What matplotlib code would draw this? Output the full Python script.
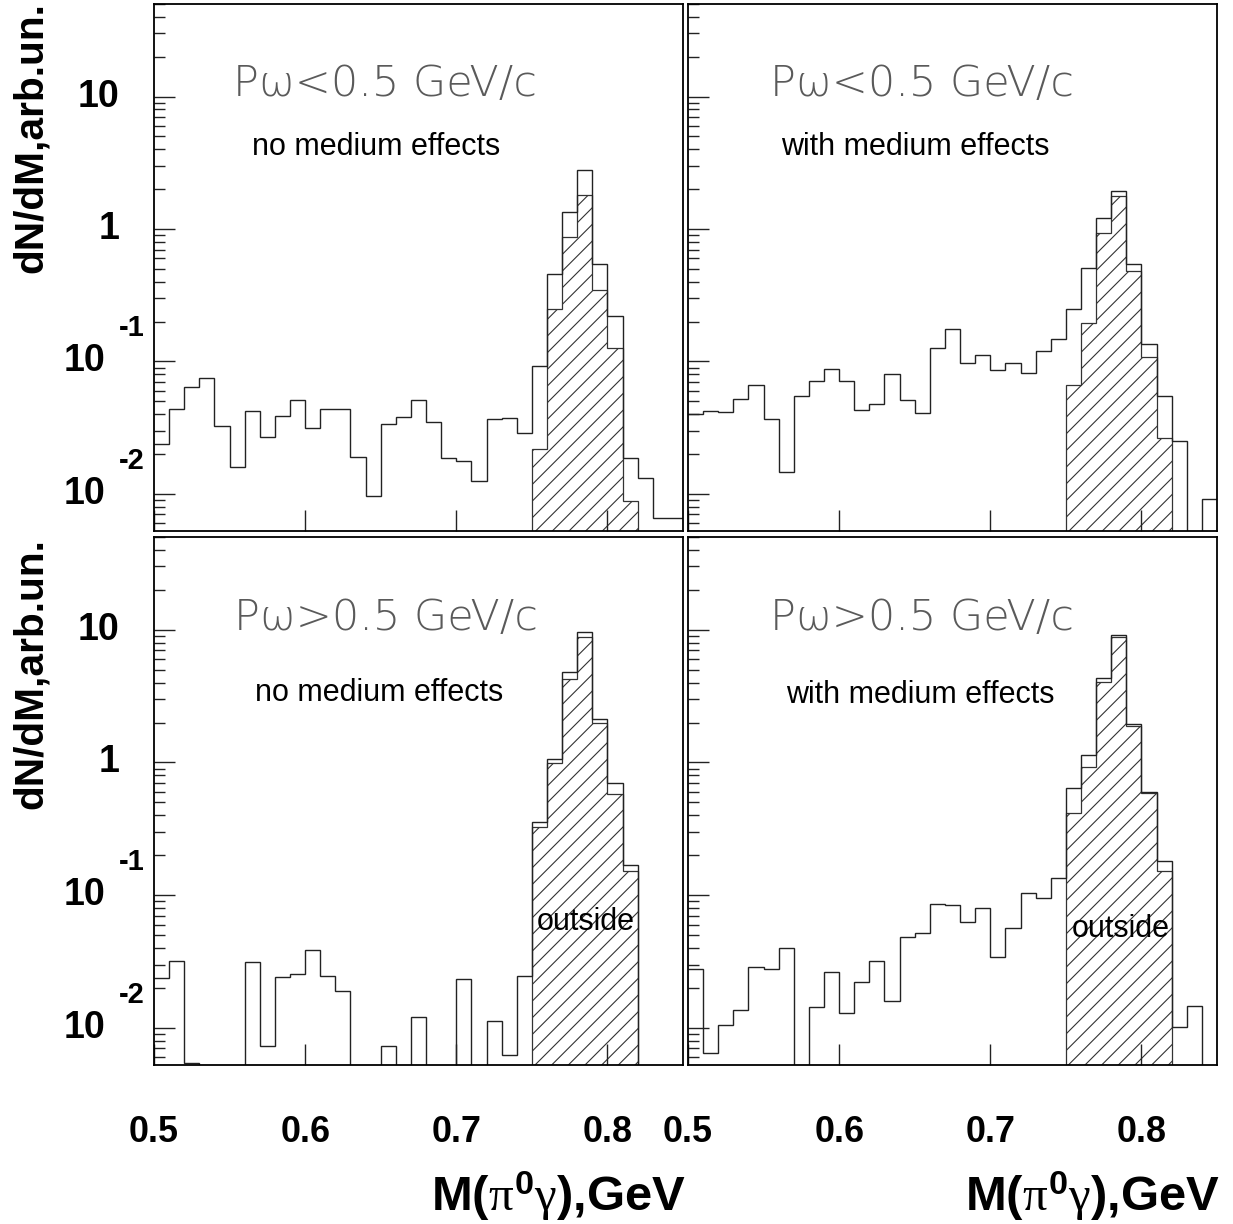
import numpy as np
import matplotlib
matplotlib.use("Agg")
import matplotlib.pyplot as plt
from matplotlib import font_manager
from matplotlib.ticker import LogLocator, NullFormatter, NullLocator

# fonts (narrow bold if it is there, plain bold otherwise)
names = {f.name for f in font_manager.fontManager.ttflist}
has_narrow = 'Liberation Sans Narrow' in names
narrow = 'Liberation Sans Narrow' if has_narrow else 'Liberation Sans'
k = 1.0 if has_narrow else 0.86
plt.rcParams['font.family'] = 'Liberation Sans'
plt.rcParams['mathtext.fontset'] = 'custom'
plt.rcParams['mathtext.rm'] = narrow + ':bold'
plt.rcParams['mathtext.it'] = 'Liberation Serif'
plt.rcParams['mathtext.bf'] = narrow + ':bold'
plt.rcParams['hatch.linewidth'] = 0.8

# bins of 10 MeV from 0.50 to 0.85 GeV
edges = np.round(np.linspace(0.50, 0.85, 36), 3)
out_edges = np.round(np.linspace(0.75, 0.82, 8), 3)

# P < 0.5 GeV/c, no medium effects
lo_nomed = [0.024, 0.044, 0.064, 0.0745, 0.0327, 0.016, 0.042, 0.027, 0.039, 0.051,
            0.0315, 0.044, 0.044, 0.019, 0.0097, 0.034, 0.038, 0.051, 0.035, 0.0187,
            0.0176, 0.0126, 0.037, 0.0375, 0.0287, 0.093, 0.455, 1.34, 2.78, 0.547,
            0.219, 0.0187, 0.0133, 0.0066, 0.0066]
lo_nomed_out = [0.0217, 0.248, 0.87, 1.81, 0.346, 0.126, 0.0088]

# P < 0.5 GeV/c, with medium effects
lo_med = [0.0403, 0.0425, 0.0415, 0.052, 0.0666, 0.0366, 0.0146, 0.0553, 0.0717, 0.0885,
          0.0717, 0.0432, 0.0476, 0.080, 0.051, 0.0408, 0.127, 0.175, 0.097, 0.111,
          0.0869, 0.0968, 0.0824, 0.1206, 0.147, 0.249, 0.509, 1.215, 1.95, 0.547,
          0.135, 0.0546, 0.0249, 0, 0.0091]
lo_med_out = [0.0666, 0.195, 0.935, 1.79, 0.483, 0.108, 0.0266]

# P > 0.5 GeV/c, no medium effects
hi_nomed = [0.0237, 0.0318, 0.0054, 0, 0, 0, 0.0314, 0.0073, 0.0242, 0.0254,
            0.0388, 0.0244, 0.019, 0, 0, 0.0073, 0, 0.012, 0, 0,
            0.0234, 0, 0.0113, 0.0062, 0.0244, 0.355, 1.07, 4.8, 9.7, 2.14,
            0.705, 0.170, 0, 0, 0]
hi_nomed_out = [0.328, 0.986, 4.26, 8.76, 1.97, 0.58, 0.153]

# P > 0.5 GeV/c, with medium effects
hi_med = [0.0278, 0.0065, 0.0105, 0.0137, 0.0288, 0.028, 0.0397, 0, 0.0144, 0.0264,
          0.013, 0.0223, 0.032, 0.016, 0.0486, 0.052, 0.0857, 0.085, 0.0624, 0.0798,
          0.034, 0.0566, 0.1045, 0.095, 0.1355, 0.643, 1.14, 4.36, 9.08, 1.94,
          0.598, 0.181, 0.0101, 0.0145, 0]
hi_med_out = [0.417, 0.923, 4.05, 8.87, 1.88, 0.585, 0.153]

xticks = [0.5, 0.6, 0.7, 0.8]
xticklabels = ['0.5', '0.6', '0.7', '0.8']
yticks = [0.01, 0.1, 1, 10]
ybase = ['10', '10', '1', '10']
yexp = ['-2', '-1', '', '']

W, H = 1233, 1224
fig = plt.figure(figsize=(W / 100, H / 100), dpi=100)


def box(x0, x1, ytop, ybot):
    return [x0 / W, 1 - ybot / H, (x1 - x0) / W, (ybot - ytop) / H]


ax1 = fig.add_axes(box(154, 683, 4, 531))
ax2 = fig.add_axes(box(688, 1217, 4, 531))
ax3 = fig.add_axes(box(154, 683, 537, 1065))
ax4 = fig.add_axes(box(688, 1217, 537, 1065))

line_c = '#222222'


def panel(ax, total, outside, ptext, mtext, left, bottom, pos):
    ax.set_yscale('log')
    tot = np.array(total, dtype=float)
    tot = np.where(tot > 0, tot, 1e-5)
    ax.stairs(outside, out_edges, baseline=1e-5, fill=True, facecolor='none',
              edgecolor='#333333', hatch='//', lw=0.9)
    ax.stairs(tot, edges, baseline=None, color=line_c, lw=1.0)
    ax.set_xlim(0.5, 0.85)
    ax.set_ylim(0.00525, 50)

    ax.yaxis.set_major_locator(LogLocator(base=10, numticks=12))
    ax.yaxis.set_minor_locator(LogLocator(base=10, subs=np.arange(2, 10), numticks=12))
    ax.yaxis.set_major_formatter(NullFormatter())
    ax.yaxis.set_minor_formatter(NullFormatter())
    ax.xaxis.set_minor_locator(NullLocator())
    ax.tick_params(which='both', direction='in', top=False, right=False,
                   labelleft=False, width=1.0, color='#222222')
    ax.tick_params(which='major', length=15)
    ax.tick_params(which='minor', length=8)
    if bottom:
        ax.set_xticks(xticks, labels=xticklabels, fontsize=30 * k, fontweight='bold',
                      family=narrow)
        ax.tick_params(axis='x', pad=36)
    else:
        ax.set_xticks(xticks, labels=[''] * len(xticks))
    for s in ax.spines.values():
        s.set_linewidth(1.3)
        s.set_color('black')

    if left:
        tr = ax.get_yaxis_transform()
        for v, b, e in zip(yticks, ybase, yexp):
            if e:
                ax.text(-0.092, v, b, transform=tr, ha='right', va='center',
                        fontsize=27, fontweight='bold', clip_on=False)
                ax.text(-0.066, v * 1.78, e, transform=tr, ha='left', va='center',
                        fontsize=21, fontweight='bold', clip_on=False)
            else:
                ax.text(-0.066, v, b, transform=tr, ha='right', va='center',
                        fontsize=27, fontweight='bold', clip_on=False)

    px, py, mx, my = pos
    ax.text(px, py, ptext, transform=ax.transAxes, ha='left', va='baseline',
            fontsize=31, family='DejaVu Sans', fontweight='light', color='#5a5a5a')
    ax.text(mx, my, mtext, transform=ax.transAxes, ha='left', va='baseline',
            fontsize=22, color='black')


panel(ax1, lo_nomed, lo_nomed_out, 'P\u03c9<0.5 GeV/c', 'no medium effects',
      True, False, (0.149, 0.825, 0.1845, 0.7135))
panel(ax2, lo_med, lo_med_out, 'P\u03c9<0.5 GeV/c', 'with medium effects',
      False, False, (0.155, 0.825, 0.176, 0.7135))
panel(ax3, hi_nomed, hi_nomed_out, 'P\u03c9>0.5 GeV/c', 'no medium effects',
      True, True, (0.151, 0.824, 0.191, 0.689))
panel(ax4, hi_med, hi_med_out, 'P\u03c9>0.5 GeV/c', 'with medium effects',
      False, True, (0.155, 0.824, 0.186, 0.686))

ax3.text(0.724, 0.256, 'outside', transform=ax3.transAxes, ha='left',
         va='baseline', fontsize=22)
ax4.text(0.726, 0.242, 'outside', transform=ax4.transAxes, ha='left',
         va='baseline', fontsize=22)

# axis titles
for ytop in (2, 538):
    fig.text(31 / W, 1 - ytop / H, 'dN/dM,arb.un.', rotation=90, ha='center',
             va='top', fontsize=34 * k, fontweight='bold', family=narrow)
for xr in (686, 1220):
    fig.text(xr / W, 1 - 1211 / H, r'M($\pi^{0}\gamma$),GeV', ha='right',
             va='baseline', fontsize=41 * k, fontweight='bold', family=narrow)

fig.savefig('out.png', dpi=100)
